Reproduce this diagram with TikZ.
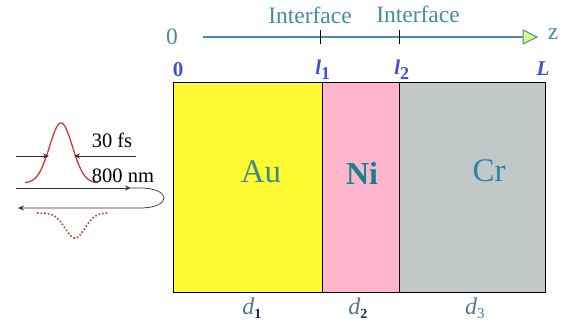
\documentclass[tikz,border=0pt]{standalone}
\usepackage{fontspec}
\setmainfont{Liberation Serif}
\usetikzlibrary{arrows.meta}
\definecolor{axisc}{RGB}{70,140,160}
\definecolor{ylw}{RGB}{255,250,50}
\definecolor{pnk}{RGB}{255,182,205}
\definecolor{gry}{RGB}{192,200,200}
\definecolor{lblue}{RGB}{64,80,208}
\definecolor{auc}{RGB}{60,140,135}
\definecolor{nic}{RGB}{20,130,140}
\definecolor{crc}{RGB}{50,130,165}
\definecolor{dc}{RGB}{80,120,150}
\definecolor{dsub}{RGB}{20,40,100}
\definecolor{redc}{RGB}{205,60,50}
\definecolor{arrc}{RGB}{50,50,50}
\tikzset{
  layer/.style={draw=black, line width=1pt},
  axistext/.style={text=axisc, font=\fontsize{23.5}{25}\selectfont, inner sep=0pt},
  bluelabel/.style={text=lblue, font=\bfseries\fontsize{21}{23}\selectfont, inner sep=0pt},
  matlabel/.style={font=\fontsize{33}{35}\selectfont, inner sep=0pt},
  dlabel/.style={text=dc, font=\itshape\fontsize{24}{26}\selectfont, inner sep=0pt},
  thinarrow/.style={draw=arrc, line width=0.7pt},
  tip/.style={-{Stealth[length=6pt,width=5pt]}},
  smalltext/.style={font=\fontsize{20.5}{22}\selectfont, inner sep=0pt},
}
\begin{document}
\begin{tikzpicture}[x=1pt,y=1pt]
\useasboundingbox (0,0) rectangle (561,326);
% layers
\fill[ylw] (173,33) rectangle (322,243);
\fill[pnk] (322,33) rectangle (399,243);
\fill[gry] (399,33) rectangle (545,243);
\draw[layer] (173,33) rectangle (545,243);
\draw[layer] (322,33) -- (322,243);
\draw[layer] (399,33) -- (399,243);
% axis
\coordinate (ax0) at (203,289);
\coordinate (axe) at (523,289);
\draw[axisc, line width=1.3pt] (ax0) -- (axe);
\filldraw[fill=ylw!80!green!60!white, draw=axisc, line width=1pt] (523,296) -- (537,289) -- (523,282) -- cycle;
\draw[black, line width=1pt] (320,282) -- (320,296);
\draw[black, line width=1pt] (399,282) -- (399,296);
\node[axistext] (if1) at (310,311) {Interface};
\node[axistext] (if2) at (418,312) {Interface};
\node[axistext] (zero) at (172,289) {0};
\node[axistext] (zz) at (553,292) {z};
% boundary labels
\node[bluelabel] (b0) at (178,256) {0};
\node[bluelabel] (bl1) at (323,256) {\textit{l}\textsubscript{\fontsize{18}{20}\selectfont\upshape 1}};
\node[bluelabel] (bl2) at (402,256) {\textit{l}\textsubscript{\fontsize{18}{20}\selectfont\upshape 2}};
\node[bluelabel] (bL) at (543,257) {\textit{L}};
% materials
\node[matlabel, text=auc] (au) at (261,154) {Au};
\node[matlabel, text=nic, font=\bfseries\fontsize{32}{34}\selectfont] (ni) at (362,153) {Ni};
\node[matlabel, text=crc] (cr) at (489,155) {Cr};
% thickness
\node[dlabel] (d1) at (252,18) {d\textsubscript{\color{dsub}\upshape\bfseries\fontsize{14}{16}\selectfont 1}};
\node[dlabel] (d2) at (358,18) {d\textsubscript{\color{dsub}\upshape\bfseries\fontsize{14}{16}\selectfont 2}};
\node[dlabel] (d3) at (475,18) {d\textsubscript{\upshape\fontsize{15}{17}\selectfont 3}};
% pulse
\draw[redc, line width=1.3pt, domain=25:98, samples=80] plot (\x, {143+60*exp(-((\x-61)^2)/(2*11.5^2))});
\draw[redc, line width=1.6pt, dotted, domain=37:108, samples=80] plot (\x, {113-25*exp(-((\x-75)^2)/(2*10^2))});
% 30 fs
\coordinate (fl) at (16,170);
\coordinate (fml) at (49,170);
\coordinate (fmr) at (74,170);
\coordinate (fr) at (136,170);
\draw[thinarrow, tip] (fl) -- (fml);
\draw[thinarrow, tip] (fr) -- (fmr);
\node[smalltext] (t30) at (112,186) {30 fs};
\node[smalltext] (t800) at (123,150) {800 nm};
% round trip arrow
\coordinate (ra) at (16,138);
\coordinate (rb) at (131,138);
\coordinate (rc) at (140,138);
\coordinate (rd) at (140,118);
\coordinate (re) at (18,118);
\draw[thinarrow, tip] (ra) -- (rb);
\draw[thinarrow, tip] (rb) -- (rc) .. controls (172,138) and (172,118) .. (rd) -- (re);
\end{tikzpicture}
\end{document}
